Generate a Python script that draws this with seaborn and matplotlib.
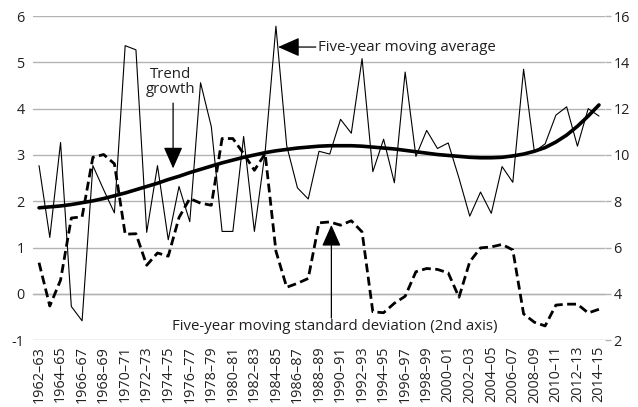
import matplotlib
matplotlib.use("Agg")
import matplotlib.pyplot as plt
import seaborn as sns
import pandas as pd
import numpy as np

start_years = list(range(1962, 2015))
period_labels = [f"{y}\u2013{(y + 1) % 100:02d}" for y in start_years]

moving_average = [2.77, 1.22, 3.27, -0.27, -0.58, 2.77, 2.25, 1.75, 5.36, 5.27,
                  1.33, 2.77, 1.17, 2.32, 1.56, 4.56, 3.61, 1.35, 1.35, 3.40,
                  1.35, 3.07, 5.78, 3.20, 2.29, 2.05, 3.08, 3.02, 3.77, 3.47,
                  5.08, 2.64, 3.34, 2.40, 4.79, 2.97, 3.53, 3.14, 3.26, 2.50,
                  1.68, 2.20, 1.74, 2.75, 2.41, 4.85, 3.07, 3.24, 3.86, 4.04,
                  3.19, 4.00, 3.84]

trend_growth = [1.86, 1.88, 1.90, 1.93, 1.97, 2.01, 2.06, 2.12, 2.18, 2.25,
                2.32, 2.39, 2.47, 2.54, 2.62, 2.69, 2.76, 2.83, 2.89, 2.95,
                3.00, 3.05, 3.09, 3.12, 3.15, 3.17, 3.19, 3.20, 3.20, 3.20,
                3.19, 3.17, 3.15, 3.13, 3.10, 3.07, 3.04, 3.01, 2.99, 2.97,
                2.95, 2.94, 2.94, 2.95, 2.98, 3.02, 3.08, 3.16, 3.28, 3.43,
                3.62, 3.84, 4.08]

moving_std = [5.35, 3.48, 4.60, 7.28, 7.33, 9.90, 10.02, 9.62, 6.58, 6.60,
              5.24, 5.77, 5.63, 7.30, 8.12, 7.92, 7.83, 10.71, 10.71, 10.06,
              9.34, 10.06, 5.85, 4.29, 4.46, 4.67, 7.07, 7.11, 6.97, 7.16,
              6.68, 3.23, 3.19, 3.60, 3.90, 4.96, 5.10, 5.06, 4.91, 3.86,
              5.39, 5.99, 6.03, 6.14, 5.90, 3.14, 2.78, 2.62, 3.52, 3.56,
              3.56, 3.18, 3.34]

left_ticks = list(range(-1, 7))
right_ticks = list(range(2, 17, 2))

df = pd.DataFrame({
    "idx": np.arange(len(start_years)),
    "ma": moving_average,
    "trend": trend_growth,
    "std": moving_std,
})

sns.set_style("white")
plt.rcParams["font.family"] = ["Open Sans", "DejaVu Sans"]
plt.rcParams["axes.unicode_minus"] = False

fig = plt.figure(figsize=(6.38, 4.07), dpi=100)
ax = fig.add_axes([33 / 638, 1 - 340.3 / 407, (605 - 33) / 638, (340.3 - 16) / 407])
ax2 = ax.twinx()

grid_c = "#b3b3b3"
txt_c = "#231f20"

sns.lineplot(data=df, x="idx", y="ma", ax=ax, color="black", lw=0.8, zorder=3)
sns.lineplot(data=df, x="idx", y="trend", ax=ax, color="black", lw=2.6, zorder=4)
sns.lineplot(data=df, x="idx", y="std", ax=ax2, color="black", lw=2.0,
             linestyle=(0, (3.2, 1.6)), zorder=3)

ax.set_xlim(-0.56, 52.56)
ax.set_ylim(-1, 6)
ax2.set_ylim(2, 16)

ax.set_yticks(left_ticks)
ax2.set_yticks(right_ticks)
ax.grid(axis="y", color=grid_c, lw=1.0)
ax.set_axisbelow(True)
ax.set_xlabel("")
ax.set_ylabel("")
ax2.set_ylabel("")

for a in (ax, ax2):
    for s in ("left", "right", "top"):
        a.spines[s].set_visible(False)
ax2.spines["bottom"].set_visible(False)

# zero line with yearly tick marks
ax.spines["bottom"].set_position(("data", 0))
ax.spines["bottom"].set_color(grid_c)
ax.spines["bottom"].set_linewidth(1.0)
ax.set_xticks(df["idx"])
ax.tick_params(axis="x", which="both", length=3, width=0.8, color=grid_c,
               direction="out", labelbottom=False)

# category labels along the bottom
sec = ax.secondary_xaxis("bottom")
sec.set_xticks(df["idx"][::2], [period_labels[i] for i in range(0, len(period_labels), 2)])
sec.tick_params(axis="x", length=0, pad=4, labelsize=10.4, labelcolor=txt_c)
for lab in sec.get_xticklabels():
    lab.set_rotation(90)
sec.spines["bottom"].set_visible(False)

ax.tick_params(axis="y", length=0, pad=6, labelsize=10.4, labelcolor=txt_c)
ax2.tick_params(axis="y", length=4, width=1.0, color=grid_c, pad=2,
                labelsize=10.4, labelcolor=txt_c)

arrow = dict(arrowstyle="-|>,head_length=0.95,head_width=0.42", color="black",
             lw=0.9, mutation_scale=14, shrinkA=0, shrinkB=0)

ax.text(12.25, 4.58, "Trend\ngrowth", ha="center", va="center", fontsize=10.8,
        color=txt_c, linespacing=1.0)
ax.annotate("", xy=(12.45, 2.71), xytext=(12.45, 4.12), arrowprops=arrow)

ax.text(25.9, 5.33, "Five-year moving average", ha="left", va="center",
        fontsize=10.8, color=txt_c)
ax.annotate("", xy=(22.2, 5.33), xytext=(25.7, 5.33), arrowprops=arrow)

ax.text(12.35, -0.70, "Five-year moving standard deviation (2nd axis)",
        ha="left", va="center", fontsize=10.8, color=txt_c)
ax.annotate("", xy=(27.15, 1.49), xytext=(27.15, -0.52), arrowprops=arrow)

fig.savefig("out.png", dpi=100)
